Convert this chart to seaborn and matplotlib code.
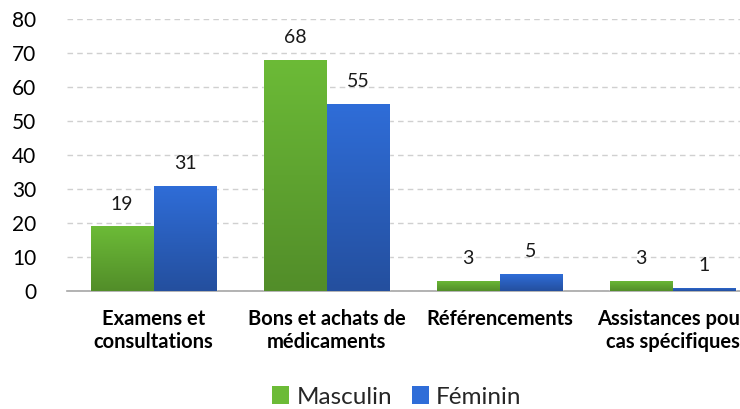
import matplotlib
matplotlib.use("Agg")
import matplotlib.pyplot as plt
import numpy as np
import pandas as pd
import seaborn as sns
from matplotlib.colors import LinearSegmentedColormap
from matplotlib.patches import Patch

categories = ["Examens et\nconsultations", "Bons et achats de\nmédicaments",
              "Référencements", "Assistances pour\ncas spécifiques"]
masculin = [19, 68, 3, 3]
feminin = [31, 55, 5, 1]
series = ["Masculin", "Féminin"]

df = pd.DataFrame({
    "cat": categories * 2,
    "val": masculin + feminin,
    "sex": [series[0]] * 4 + [series[1]] * 4,
})

sns.set_theme(style="white")
plt.rcParams["font.family"] = ["Lato", "DejaVu Sans"]

green_top, green_bot = "#6cbb37", "#528d29"
blue_top, blue_bot = "#2f6dd8", "#244f9e"

fig = plt.figure(figsize=(7.4, 4.09), dpi=100)
ax = fig.add_axes([67 / 740, 118 / 409, 692 / 740, 272 / 409])

sns.barplot(data=df, x="cat", y="val", hue="sex", order=categories,
            palette=[green_top, blue_top], width=0.728, gap=0,
            ax=ax, legend=False, zorder=3)

ax.set_ylim(0, 80)
ax.set_yticks(range(0, 81, 10))
ax.set_xlim(-0.5, 3.5)
ax.set_xlabel("")
ax.set_ylabel("")
ax.yaxis.grid(True, linestyle=(0, (4, 3)), color="#d0d0d0", linewidth=1, zorder=0)
ax.set_axisbelow(True)
for s in ["top", "right", "left"]:
    ax.spines[s].set_visible(False)
ax.spines["bottom"].set_color("#a6a6a6")
ax.spines["bottom"].set_linewidth(1.2)
ax.tick_params(axis="y", length=0, pad=22, labelsize=15, labelcolor="#000000")
ax.tick_params(axis="x", length=0, pad=13, labelsize=14.5, labelcolor="#000000")
for lbl in ax.get_xticklabels():
    lbl.set_fontweight("bold")
    lbl.set_linespacing(1.2)

# gradient fill for each bar
gradients = [(green_top, green_bot), (blue_top, blue_bot)]
grad = np.linspace(1, 0, 256).reshape(-1, 1)
for i, cont in enumerate(ax.containers):
    cmap = LinearSegmentedColormap.from_list("g%d" % i, [gradients[i][1], gradients[i][0]])
    for bar in cont:
        x0, w, h = bar.get_x(), bar.get_width(), bar.get_height()
        im = ax.imshow(grad, extent=[x0, x0 + w, 0, h], cmap=cmap, aspect="auto",
                       zorder=4, origin="upper")
        im.set_clip_path(bar)
    ax.bar_label(cont, padding=10, fontsize=14, color="#1a1a1a")

ax.set_xlim(-0.5, 3.5)
ax.set_ylim(0, 80)

handles = [Patch(facecolor=green_top, edgecolor="none"),
           Patch(facecolor=blue_top, edgecolor="none")]
fig.legend(handles, series, loc="center", bbox_to_anchor=(397 / 740, 1 - 397 / 409),
           ncol=2, frameon=False, fontsize=17.5, handlelength=0.7, handleheight=0.7,
           handletextpad=0.3, columnspacing=0.8)

fig.savefig("out.png", dpi=100)
